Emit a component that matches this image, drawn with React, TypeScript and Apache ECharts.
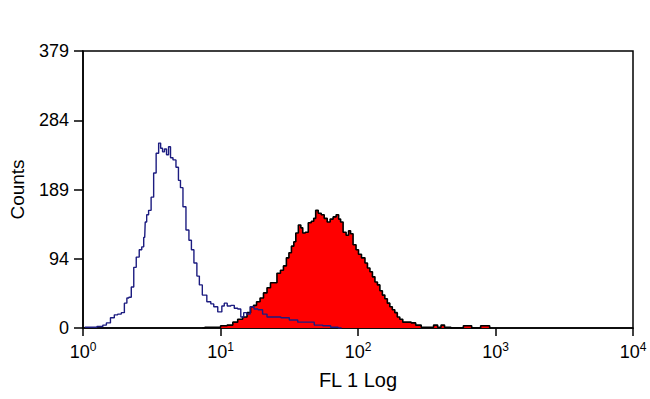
import React, { useEffect, useRef } from "react";
import * as echarts from "echarts";

// Unstained / control histogram (blue outline)
const blueFL = [1.03, 1.18, 1.35, 1.44, 1.52, 1.65, 1.73, 1.85, 1.95, 2.05, 2.12, 2.19, 2.30, 2.38, 2.50, 2.63, 2.72, 2.81, 2.86, 2.95, 3.05, 3.21, 3.32, 3.49, 3.61, 3.73, 3.85, 3.98, 4.12, 4.26, 4.40, 4.63, 4.86, 5.03, 5.20, 5.47, 5.75, 6.04, 6.25, 6.57, 6.90, 7.14, 7.62, 8.30, 8.71, 9.16, 9.96, 10.5, 10.8, 11.6, 12.2, 13.0, 13.7, 14.4, 15.1, 15.9, 17.0, 18.1, 19.4, 21.1, 22.5, 25.7, 29.4, 34.1, 39.0, 44.6, 51.8, 59.2, 67.6, 76.0];
const blueCounts = [1, 1, 2, 4, 7, 14, 18, 19, 21, 34, 41, 42, 56, 83, 97, 107, 111, 124, 145, 155, 161, 179, 212, 239, 253, 246, 241, 245, 237, 248, 233, 230, 220, 202, 192, 166, 134, 120, 107, 89, 71, 59, 45, 36, 33, 29, 22, 30, 34, 30, 31, 27, 26, 15, 21, 19, 29, 26, 25, 19, 15, 15, 14, 11, 8, 8, 4, 3, 1, 0];

// Stained histogram (red filled)
const redFL = [7.38, 8.02, 9.47, 10.6, 11.8, 12.8, 13.9, 15.1, 16.1, 17.0, 17.8, 18.8, 20.0, 21.1, 22.5, 23.7, 24.9, 26.6, 28.0, 29.4, 30.9, 32.0, 33.6, 34.7, 35.9, 37.8, 39.0, 40.3, 42.4, 44.6, 46.9, 48.4, 50.1, 52.7, 55.4, 58.2, 61.2, 64.3, 67.6, 71.1, 73.5, 76.0, 79.9, 84.0, 86.8, 89.8, 94.4, 99.2, 102.5, 109.6, 115.2, 119.1, 125.2, 129.5, 136.2, 140.8, 147.9, 152.9, 160.7, 166.2, 174.7, 180.6, 189.9, 196.4, 206.4, 217.0, 236, 252, 274, 303, 340, 370, 389, 415, 437, 515, 662, 680, 894, 920];
const redCounts = [0, 1, 1, 3, 4, 8, 12, 15, 21, 29, 31, 36, 41, 48, 55, 62, 62, 75, 79, 85, 96, 103, 112, 118, 130, 141, 137, 130, 131, 144, 146, 150, 161, 157, 155, 150, 145, 149, 152, 155, 149, 145, 131, 127, 133, 129, 114, 107, 101, 96, 89, 82, 77, 70, 63, 59, 51, 45, 40, 34, 29, 25, 21, 15, 12, 8, 8, 7, 4, 1, 1, 4, 1, 4, 1, 0, 3, 0, 3, 0];

const yTickLabels = [0, 94, 189, 284, 379];
const xTickExponents = [0, 1, 2, 3, 4];

export default function App() {
  const ref = useRef<HTMLDivElement>(null);
  useEffect(() => {
    if (!ref.current) return;
    const chart = echarts.init(ref.current, null, { renderer: "svg" });
    const font = "'Liberation Sans', Arial, sans-serif";
    const yMax = yTickLabels[yTickLabels.length - 1];
    chart.setOption({
      animation: false,
      backgroundColor: "#fff",
      grid: {
        left: 80,
        right: 17,
        top: 51,
        bottom: 71,
        show: true,
        borderColor: "#000",
        borderWidth: 1.5,
        backgroundColor: "transparent",
      },
      xAxis: {
        type: "log",
        logBase: 10,
        min: Math.pow(10, xTickExponents[0]),
        max: Math.pow(10, xTickExponents[xTickExponents.length - 1]),
        name: "FL 1 Log",
        nameLocation: "middle",
        nameGap: 42,
        nameTextStyle: { color: "#000", fontSize: 20, fontFamily: font },
        axisLine: { show: true, lineStyle: { color: "#000", width: 1.5 } },
        axisTick: { show: true, length: 8, lineStyle: { color: "#000", width: 1.5 } },
        splitLine: { show: false },
        minorTick: { show: false },
        axisLabel: {
          margin: 13,
          color: "#000",
          fontFamily: font,
          formatter: (v: number) => `{b|10}{s|${Math.round(Math.log10(v))}}`,
          rich: {
            b: { fontSize: 18, fontFamily: font, color: "#000" },
            s: { fontSize: 12, fontFamily: font, color: "#000", padding: [0, 0, 9, 0] },
          },
        },
      },
      yAxis: {
        type: "value",
        min: 0,
        max: yMax,
        interval: yMax / (yTickLabels.length - 1),
        name: "Counts",
        nameLocation: "middle",
        nameGap: 56,
        nameTextStyle: { color: "#000", fontSize: 19, fontFamily: font },
        axisLine: { show: true, lineStyle: { color: "#000", width: 1.5 } },
        axisTick: { show: true, length: 9, lineStyle: { color: "#000", width: 1.5 } },
        splitLine: { show: false },
        axisLabel: {
          margin: 14,
          color: "#000",
          fontSize: 18,
          fontFamily: font,
          formatter: (v: number) => String(Math.floor(v + 1e-6)),
        },
      },
      series: [
        {
          name: "stained",
          type: "line",
          step: "middle",
          showSymbol: false,
          data: redFL.map((x, i) => [x, redCounts[i]]),
          lineStyle: { color: "#000", width: 1.6 },
          areaStyle: { color: "#ff0000", opacity: 1 },
          z: 2,
        },
        {
          name: "control",
          type: "line",
          step: "middle",
          showSymbol: false,
          data: blueFL.map((x, i) => [x, blueCounts[i]]),
          lineStyle: { color: "#1c1c80", width: 1.4 },
          z: 3,
        },
      ],
    });
    return () => chart.dispose();
  }, []);
  return (
    <div
      ref={ref}
      style={{ position: "fixed", left: 0, top: 0, width: 650, height: 399, background: "#fff" }}
    />
  );
}
